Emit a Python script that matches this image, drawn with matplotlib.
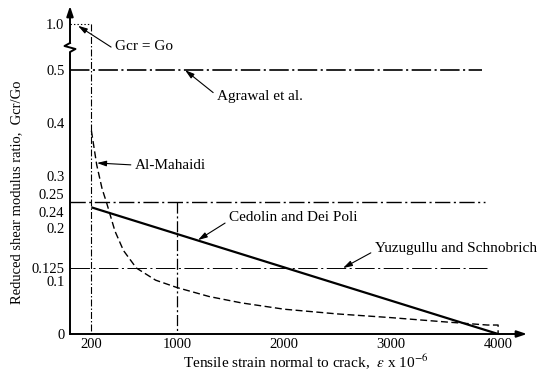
import matplotlib
matplotlib.use("Agg")
import matplotlib.pyplot as plt
import numpy as np

plt.rcParams['font.family'] = ['Liberation Serif', 'DejaVu Serif']
plt.rcParams['mathtext.fontset'] = 'stix'
plt.rcParams['lines.scale_dashes'] = False

# ---------------- data ----------------
gcr_flat_x = [0, 200]
gcr_flat_y = [1.0, 1.0]
gcr_drop_x = [200, 200]
gcr_drop_y = [1.0, 0.0]

agrawal_x = [0, 3850]
agrawal_y = [0.5, 0.5]

quarter_x = [0, 3880]
quarter_y = [0.25, 0.25]
step1000_x = [1000, 1000]
step1000_y = [0.25, 0.0]

yuzugullu_x = [0, 3900]
yuzugullu_y = [0.125, 0.125]

cedolin_x = [200, 4000]
cedolin_y = [0.24, 0.0]

mahaidi_x = [200, 250, 300, 340, 420, 500, 620, 800, 1000, 1300, 1600, 2000,
             2500, 3000, 3500, 3700, 3900, 4000, 4000]
mahaidi_y = [0.385, 0.32, 0.275, 0.25, 0.195, 0.158, 0.125, 0.102, 0.088, 0.071,
             0.059, 0.047, 0.038, 0.031, 0.023, 0.020, 0.017, 0.017, 0.0]

ytick_vals = [0, 0.1, 0.125, 0.2, 0.24, 0.25, 0.3, 0.4, 0.5, 1.0]
ytick_labels = ["0", "0.1", "0.125", "0.2", "0.24", "0.25", "0.3", "0.4", "0.5", "1.0"]
xtick_vals = [200, 1000, 2000, 3000, 4000]
xtick_labels = ["200", "1000", "2000", "3000", "4000"]

# broken axis above 0.5
def fwd(y):
    y = np.asarray(y, dtype=float)
    return np.where(y <= 0.5, y, 0.5 + (y - 0.5) * 0.175)

def inv(y):
    y = np.asarray(y, dtype=float)
    return np.where(y <= 0.5, y, 0.5 + (y - 0.5) / 0.175)

fig = plt.figure(figsize=(5.41, 3.75), dpi=100)
ax = fig.add_axes([70 / 541, 41 / 375, 457 / 541, 328 / 375])
ax.set_yscale('function', functions=(fwd, inv))
ax.set_xlim(0, 4270)
ax.set_ylim(0, 1.194)

for s in ax.spines.values():
    s.set_visible(False)

k = 'black'
ax.plot(gcr_flat_x, gcr_flat_y, color=k, lw=0.8, linestyle=(0, (1, 1.5)))
ax.plot(gcr_drop_x, gcr_drop_y, color=k, lw=0.8, linestyle=(0, (5, 1.5, 1, 1.5)))
ax.plot(agrawal_x, agrawal_y, color=k, lw=1.2, linestyle=(0, (14, 2.5, 1.5, 2.5)))
ax.plot(quarter_x, quarter_y, color=k, lw=1.0, linestyle=(0, (11, 2.5, 1.5, 2.5)))
ax.plot(step1000_x, step1000_y, color=k, lw=0.9, linestyle=(0, (8, 2, 1.5, 2)))
ax.plot(yuzugullu_x, yuzugullu_y, color=k, lw=0.7, linestyle=(0, (14, 2.5, 1.5, 2.5)))
ax.plot(cedolin_x, cedolin_y, color=k, lw=1.6, solid_capstyle='butt')
ax.plot(mahaidi_x, mahaidi_y, color=k, lw=1.0, linestyle=(0, (5, 2.5)))

# ticks
ax.set_yticks(ytick_vals)
ax.set_yticklabels(ytick_labels)
ax.set_yticks([0.1, 0.2, 0.24, 0.3, 0.4], minor=True)
ax.set_xticks(xtick_vals)
ax.set_xticklabels(xtick_labels)
ax.set_xticks([2000, 3000, 4000], minor=True)
ax.tick_params(which='major', length=0, labelsize=10.5)
ax.tick_params(axis='y', which='major', pad=4)
ax.tick_params(axis='x', which='major', pad=3)
ax.tick_params(which='minor', direction='in', length=6, width=1.1)
for lab in ax.get_yticklabels():
    if lab.get_text() == '0.25':
        lab.set_va('bottom')
    elif lab.get_text() == '0.24':
        lab.set_va('top')

# axes with arrows and break
def fy(py):
    return (334 - py) / 328

ax.plot([0, 0, 0.012, -0.012, 0], [0, fy(52), fy(49), fy(46), fy(43)],
        transform=ax.transAxes, color=k, lw=1.4, clip_on=False)
ax.annotate('', xy=(0, 1), xytext=(0, fy(43)), xycoords='axes fraction',
            arrowprops=dict(arrowstyle='-|>,head_length=0.6,head_width=0.2', lw=1.4,
                            color=k, shrinkA=0, shrinkB=0))
ax.annotate('', xy=(1, 0), xytext=(0, 0), xycoords='axes fraction',
            arrowprops=dict(arrowstyle='-|>,head_length=0.6,head_width=0.2', lw=1.4,
                            color=k, shrinkA=0, shrinkB=0))

arr = dict(arrowstyle='-|>,head_length=0.5,head_width=0.15', lw=0.8, color=k,
           shrinkA=1, shrinkB=0)
fs = 11
ax.annotate('Gcr = Go', xy=(75, 0.98), xytext=(0.0985, 0.875), textcoords='axes fraction',
            ha='left', va='center', fontsize=fs, arrowprops=dict(arr, relpos=(0, 0.3)))
ax.annotate('Agrawal et al.', xy=(1075, 0.5), xytext=(0.3217, 0.7226),
            textcoords='axes fraction', ha='left', va='center', fontsize=fs,
            arrowprops=dict(arr, relpos=(0, 0.6)))
ax.annotate('Al-Mahaidi', xy=(252, 0.324), xytext=(0.1422, 0.515),
            textcoords='axes fraction', ha='left', va='center', fontsize=fs,
            arrowprops=dict(arr, relpos=(0, 0.5)))
ax.annotate('Cedolin and Dei Poli', xy=(1196, 0.178), xytext=(0.348, 0.3537),
            textcoords='axes fraction', ha='left', va='center', fontsize=fs,
            arrowprops=dict(arr, relpos=(0, 0.3)))
ax.annotate('Yuzugullu and Schnobrich', xy=(2551, 0.125), xytext=(0.667, 0.262),
            textcoords='axes fraction', ha='left', va='center', fontsize=fs,
            arrowprops=dict(arr, relpos=(0, 0.3)))

fig.text(17 / 541, 1 - 192 / 375, 'Reduced shear modulus ratio,  Gcr/Go',
         rotation=90, ha='center', va='center', fontsize=10.5)
fig.text(306 / 541, 1 - 362 / 375, 'Tensile strain normal to crack,  $\\epsilon$ x 10$^{-6}$',
         ha='center', va='center', fontsize=11)

fig.savefig('out.png', dpi=100)
